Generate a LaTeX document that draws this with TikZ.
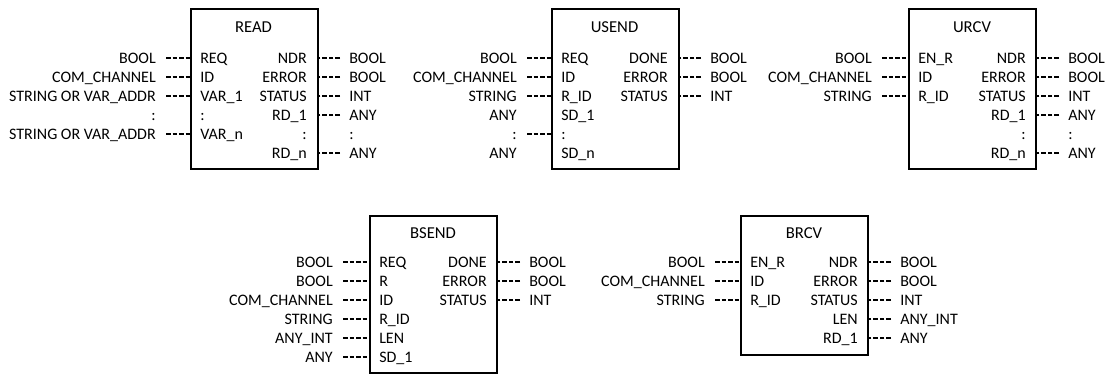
\documentclass[tikz,border=0pt]{standalone}
\usepackage{fontspec}
\setmainfont{Carlito}
\usetikzlibrary{positioning}
\begin{document}
\begin{tikzpicture}[x=0.75pt,y=-0.75pt,
  every node/.style={font=\fontsize{12}{14}\selectfont,inner sep=0pt,text height=7.7pt,text depth=0pt},
  fb/.style={draw,line width=1.5pt,anchor=north west,minimum width=95.25pt},
  ttl/.style={font=\fontsize{12.5}{14}\selectfont},
  pin/.style={},
  typl/.style={anchor=east,inner xsep=7.5pt},
  typr/.style={anchor=west,inner xsep=6.75pt},
  wire/.style={line width=1pt,dash pattern=on 3.4pt off 1.5pt}]
\useasboundingbox (0,0) rectangle (1105,374);
% function blocks
\node[fb,minimum height=120pt] (read) at (190,8) {};
\node[fb,minimum height=120pt] (usend) at (551,8) {};
\node[fb,minimum height=120pt] (urcv) at (908,8) {};
\node[fb,minimum height=117.75pt] (bsend) at (369,215) {};
\node[fb,minimum height=104.25pt] (brcv) at (740,215) {};
\node[ttl] (read-name) at (253.5,27) {READ};
\node[ttl] (usend-name) at (614.5,27) {USEND};
\node[ttl] (urcv-name) at (972,27) {URCV};
\node[ttl] (bsend-name) at (433,233) {BSEND};
\node[ttl] (brcv-name) at (804,233) {BRCV};
% READ
\foreach \p/\t/\w [count=\i] in {REQ/BOOL/1,ID/COM\_CHANNEL/1,VAR\_1/STRING OR VAR\_ADDR/1,:/:/0,VAR\_n/STRING OR VAR\_ADDR/1}{
  \pgfmathsetmacro\y{39+19*\i}
  \node[pin,anchor=west] (read-in\i) at (200,\y) {\p};
  \node[typl] (read-it\i) at (166,\y) {\t};
  \ifnum\w=1 \draw[wire] (read-it\i.east) -- (read-it\i.east -| read.west); \fi
}
\foreach \p/\t/\w [count=\i] in {NDR/BOOL/1,ERROR/BOOL/1,STATUS/INT/1,RD\_1/ANY/1,:/:/0,RD\_n/ANY/1}{
  \pgfmathsetmacro\y{39+19*\i}
  \node[pin,anchor=east] (read-out\i) at (307,\y) {\p};
  \node[typr] (read-ot\i) at (340,\y) {\t};
  \ifnum\w=1 \draw[wire] (read-ot\i.west) -- (read.east |- read-ot\i.west); \fi
}
% USEND
\foreach \p/\t/\w [count=\i] in {REQ/BOOL/1,ID/COM\_CHANNEL/1,R\_ID/STRING/1,SD\_1/ANY/0,:/:/1,SD\_n/ANY/0}{
  \pgfmathsetmacro\y{39+19*\i}
  \node[pin,anchor=west] (usend-in\i) at (561,\y) {\p};
  \node[typl] (usend-it\i) at (527,\y) {\t};
  \ifnum\w=1 \draw[wire] (usend-it\i.east) -- (usend-it\i.east -| usend.west); \fi
}
\foreach \p/\t [count=\i] in {DONE/BOOL,ERROR/BOOL,STATUS/INT}{
  \pgfmathsetmacro\y{39+19*\i}
  \node[pin,anchor=east] (usend-out\i) at (668,\y) {\p};
  \node[typr] (usend-ot\i) at (701,\y) {\t};
  \draw[wire] (usend-ot\i.west) -- (usend.east |- usend-ot\i.west);
}
% URCV
\foreach \p/\t [count=\i] in {EN\_R/BOOL,ID/COM\_CHANNEL,R\_ID/STRING}{
  \pgfmathsetmacro\y{39+19*\i}
  \node[pin,anchor=west] (urcv-in\i) at (918,\y) {\p};
  \node[typl] (urcv-it\i) at (882,\y) {\t};
  \draw[wire] (urcv-it\i.east) -- (urcv-it\i.east -| urcv.west);
}
\foreach \p/\t/\w [count=\i] in {NDR/BOOL/1,ERROR/BOOL/1,STATUS/INT/1,RD\_1/ANY/1,:/:/0,RD\_n/ANY/1}{
  \pgfmathsetmacro\y{39+19*\i}
  \node[pin,anchor=east] (urcv-out\i) at (1026,\y) {\p};
  \node[typr] (urcv-ot\i) at (1059,\y) {\t};
  \ifnum\w=1 \draw[wire] (urcv-ot\i.west) -- (urcv.east |- urcv-ot\i.west); \fi
}
% BSEND
\foreach \p/\t [count=\i] in {REQ/BOOL,R/BOOL,ID/COM\_CHANNEL,R\_ID/STRING,LEN/ANY\_INT,SD\_1/ANY}{
  \pgfmathsetmacro\y{243+19*\i}
  \node[pin,anchor=west] (bsend-in\i) at (379,\y) {\p};
  \node[typl] (bsend-it\i) at (343,\y) {\t};
  \draw[wire] (bsend-it\i.east) -- (bsend-it\i.east -| bsend.west);
}
\foreach \p/\t [count=\i] in {DONE/BOOL,ERROR/BOOL,STATUS/INT}{
  \pgfmathsetmacro\y{243+19*\i}
  \node[pin,anchor=east] (bsend-out\i) at (487,\y) {\p};
  \node[typr] (bsend-ot\i) at (520,\y) {\t};
  \draw[wire] (bsend-ot\i.west) -- (bsend.east |- bsend-ot\i.west);
}
% BRCV
\foreach \p/\t [count=\i] in {EN\_R/BOOL,ID/COM\_CHANNEL,R\_ID/STRING}{
  \pgfmathsetmacro\y{243+19*\i}
  \node[pin,anchor=west] (brcv-in\i) at (750,\y) {\p};
  \node[typl] (brcv-it\i) at (715,\y) {\t};
  \draw[wire] (brcv-it\i.east) -- (brcv-it\i.east -| brcv.west);
}
\foreach \p/\t [count=\i] in {NDR/BOOL,ERROR/BOOL,STATUS/INT,LEN/ANY\_INT,RD\_1/ANY}{
  \pgfmathsetmacro\y{243+19*\i}
  \node[pin,anchor=east] (brcv-out\i) at (858,\y) {\p};
  \node[typr] (brcv-ot\i) at (891,\y) {\t};
  \draw[wire] (brcv-ot\i.west) -- (brcv.east |- brcv-ot\i.west);
}
\end{tikzpicture}
\end{document}
